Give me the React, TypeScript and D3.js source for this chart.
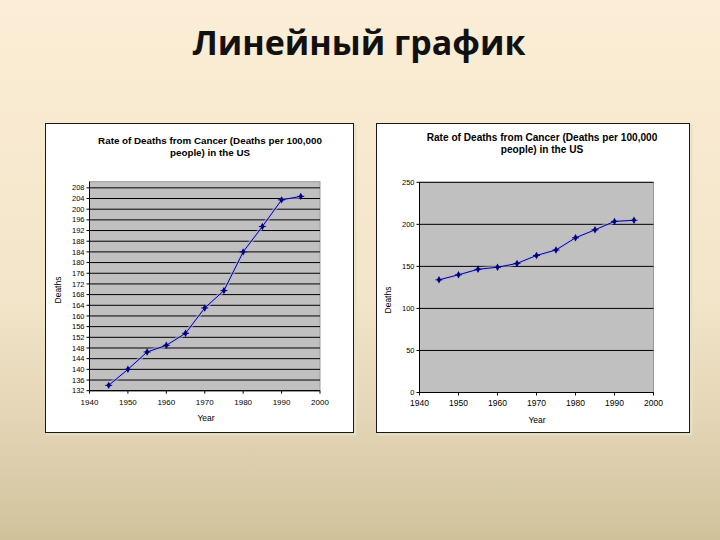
import React from "react";
import * as d3 from "d3";

const years = [1945, 1950, 1955, 1960, 1965, 1970, 1975, 1980, 1985, 1990, 1995];
const deaths = [134, 140, 146.5, 149, 153.5, 163, 169.5, 184, 193.5, 203.5, 204.8];
const xTicks = [1940, 1950, 1960, 1970, 1980, 1990, 2000];
const leftYTicks = d3.range(132, 209, 4);
const rightYTicks = [0, 50, 100, 150, 200, 250];
const slideTitle = "Линейный график";
const chartTitle1 = "Rate of Deaths from Cancer (Deaths per 100,000";
const chartTitle2 = "people) in the US";
const yLabel = "Deaths";
const xLabel = "Year";

type ChartProps = {
  frame: [number, number, number, number];
  plot: [number, number, number, number];
  yDomain: [number, number];
  yTicks: number[];
  titleX: number;
  titleY: number;
  titleSize: number;
  yLabelPos: [number, number];
  xLabelPos: [number, number];
  xTickLabelY: number;
  xTickSize: number;
};

function Chart(p: ChartProps) {
  const [fx0, fy0, fx1, fy1] = p.frame;
  const [px0, py0, px1, py1] = p.plot;
  const x = d3.scaleLinear().domain([1940, 2000]).range([px0, px1]);
  const y = d3.scaleLinear().domain(p.yDomain).range([py1, py0]);
  const line = d3
    .line<number>()
    .x((_, i) => x(years[i]))
    .y((d) => y(d));
  const path = line(deaths) || "";
  const diamond = d3.symbol().type(d3.symbolDiamond).size(16)() || "";
  const font = "'Liberation Sans', Arial, sans-serif";
  return (
    <g>
      <rect x={fx0 + 2} y={fy0 + 2} width={fx1 - fx0} height={fy1 - fy0} fill="none" stroke="#e4dfc9" strokeWidth={2} />
      <rect x={fx0} y={fy0} width={fx1 - fx0} height={fy1 - fy0} fill="#ffffff" stroke="#1a1a1a" strokeWidth={1} />
      <rect x={px0} y={py0} width={px1 - px0} height={py1 - py0} fill="#c0c0c0" stroke="#9a9a9a" strokeWidth={1} />
      {p.yTicks.map((t) => (
        <line key={"g" + t} x1={px0} x2={px1} y1={y(t)} y2={y(t)} stroke="#000" strokeWidth={1} />
      ))}
      <line x1={px0} x2={px0} y1={py0} y2={py1} stroke="#000" strokeWidth={1} />
      <line x1={px0} x2={px1} y1={py1} y2={py1} stroke="#000" strokeWidth={1} />
      {p.yTicks.map((t) => (
        <g key={"yt" + t}>
          <line x1={px0 - 3} x2={px0} y1={y(t)} y2={y(t)} stroke="#000" strokeWidth={1} />
          <text x={px0 - 5} y={y(t)} dy="0.35em" textAnchor="end" fontFamily={font} fontSize={7.5} fill="#000">
            {t}
          </text>
        </g>
      ))}
      {xTicks.map((t) => (
        <g key={"xt" + t}>
          <line x1={x(t)} x2={x(t)} y1={py1} y2={py1 + 3} stroke="#000" strokeWidth={1} />
          <text x={x(t)} y={p.xTickLabelY} dy="0.35em" textAnchor="middle" fontFamily={font} fontSize={p.xTickSize} fill="#000">
            {t}
          </text>
        </g>
      ))}
      <path d={path} fill="none" stroke="#b4b4e6" strokeWidth={4} strokeOpacity={0.6} />
      <path d={path} fill="none" stroke="#000080" strokeWidth={1} />
      {deaths.map((d, i) => (
        <g key={"m" + i} transform={`translate(${x(years[i])},${y(d)})`}>
          <path d={diamond} fill="#000080" />
          <line x1={-3.5} x2={3.5} y1={0} y2={0} stroke="#000080" strokeWidth={1} />
        </g>
      ))}
      <text x={p.titleX} y={p.titleY} textAnchor="middle" fontFamily={font} fontWeight="bold" fontSize={p.titleSize} fill="#000">
        {chartTitle1}
      </text>
      <text x={p.titleX} y={p.titleY + 12} textAnchor="middle" fontFamily={font} fontWeight="bold" fontSize={p.titleSize} fill="#000">
        {chartTitle2}
      </text>
      <text
        transform={`translate(${p.yLabelPos[0]},${p.yLabelPos[1]}) rotate(-90)`}
        textAnchor="middle"
        dy="0.35em"
        fontFamily={font}
        fontSize={8.5}
        fill="#000"
      >
        {yLabel}
      </text>
      <text x={p.xLabelPos[0]} y={p.xLabelPos[1]} dy="0.35em" textAnchor="middle" fontFamily={font} fontSize={8.5} fill="#000">
        {xLabel}
      </text>
    </g>
  );
}

export default function App() {
  return (
    <svg width={720} height={540} style={{ position: "absolute", left: 0, top: 0 }}>
      <defs>
        <linearGradient id="bg" x1="0" y1="0" x2="0" y2="1">
          <stop offset="0" stopColor="#fcedd6" />
          <stop offset="0.55" stopColor="#f3e5c9" />
          <stop offset="0.82" stopColor="#e0d2b1" />
          <stop offset="1" stopColor="#cfc29b" />
        </linearGradient>
      </defs>
      <rect x={0} y={0} width={720} height={540} fill="url(#bg)" />
      <text
        x={359}
        y={55}
        textAnchor="middle"
        fontFamily="'Open Sans', 'DejaVu Sans', sans-serif"
        fontWeight="bold"
        fontSize={34}
        fill="#111"
      >
        {slideTitle}
      </text>
      <Chart
        frame={[45.5, 123.5, 353.5, 432.5]}
        plot={[89.5, 181.7, 320, 390.7]}
        yDomain={[132, 210.3]}
        yTicks={leftYTicks}
        titleX={210}
        titleY={143.5}
        titleSize={9.8}
        yLabelPos={[58.5, 290]}
        xLabelPos={[206, 418.3]}
        xTickLabelY={401.7}
        xTickSize={8}
      />
      <Chart
        frame={[376.5, 123.5, 689.5, 432.5]}
        plot={[419.5, 182.3, 653.5, 392.5]}
        yDomain={[0, 250]}
        yTicks={rightYTicks}
        titleX={542}
        titleY={140.5}
        titleSize={10.1}
        yLabelPos={[388.5, 300]}
        xLabelPos={[537, 420]}
        xTickLabelY={403.3}
        xTickSize={8.5}
      />
    </svg>
  );
}
